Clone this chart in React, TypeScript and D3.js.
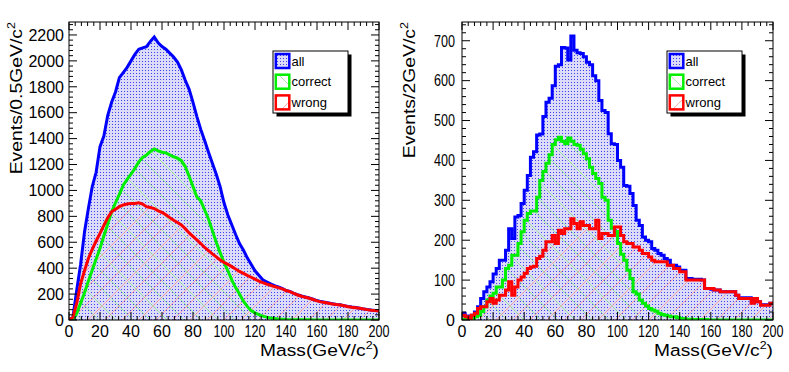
import React from "react";
import * as d3 from "d3";

// left panel: 0.5 GeV binning, values read every 2.5 GeV
const leftAll = [
  0, 20, 232, 430, 680, 860, 1030, 1140, 1338, 1420,
  1580, 1680, 1760, 1870, 1910, 1950, 2000, 2050, 2090, 2100,
  2110, 2150, 2185, 2140, 2110, 2090, 2060, 2030, 1990, 1930,
  1850, 1780, 1680, 1570, 1470, 1385, 1295, 1210, 1125, 1030,
  905, 810, 735, 660, 590, 540, 480, 430, 380, 345,
  310, 295, 280, 265, 255, 245, 228, 220, 206, 195,
  185, 177, 170, 160, 150, 142, 137, 131, 125, 120,
  117, 111, 105, 100, 96, 91, 86, 81, 77, 74, 71,
];
const leftCorrect = [
  0, 5, 52, 130, 210, 300, 385, 470, 553, 650,
  740, 836, 905, 970, 1040, 1085, 1125, 1170, 1220, 1255,
  1274, 1300, 1320, 1305, 1295, 1290, 1275, 1260, 1250, 1230,
  1185, 1110, 1030, 950, 920, 849, 780, 690, 600, 520,
  445, 380, 310, 250, 200, 145, 105, 72, 55, 42,
  30, 22, 15, 11, 7, 5, 3, 2, 2, 1,
  1, 1, 1, 0, 0, 0, 0, 0, 0, 0,
  0, 0, 0, 0, 0, 0, 0, 0, 0, 0, 0,
];
const leftWrong = [
  0, 20, 130, 280, 380, 475, 545, 610, 669, 730,
  790, 835, 855, 875, 888, 895, 900, 900, 905, 895,
  875, 868, 860, 842, 830, 812, 790, 770, 752, 733,
  705, 672, 645, 618, 590, 560, 535, 510, 487, 463,
  445, 430, 412, 393, 375, 360, 344, 330, 315, 300,
  288, 277, 268, 258, 250, 240, 228, 219, 205, 193,
  183, 175, 168, 158, 148, 140, 135, 130, 124, 119,
  116, 110, 103, 98, 94, 90, 85, 80, 76, 73, 70,
];

// right panel: 2 GeV bins
const rightAll = [
  17, 10, 8, 12, 20, 33, 54, 71, 83, 96,
  115, 129, 150, 150, 175, 229, 204, 258, 262, 292,
  325, 362, 408, 422, 464, 466, 510, 546, 556, 587,
  636, 640, 683, 682, 652, 712, 676, 670, 668, 660,
  646, 640, 612, 600, 550, 525, 520, 467, 442, 440,
  400, 383, 337, 335, 317, 287, 250, 237, 208, 200,
  196, 179, 175, 167, 162, 154, 150, 137, 137, 133,
  125, 125, 104, 104, 102, 102, 102, 100, 79, 79,
  77, 75, 75, 71, 71, 71, 71, 71, 62, 54,
  56, 56, 56, 44, 54, 46, 38, 38, 38, 42,
];
const rightCorrect = [
  1, 2, 2, 4, 8, 12, 21, 33, 50, 60,
  67, 83, 83, 100, 129, 137, 162, 162, 192, 221,
  250, 267, 273, 273, 308, 350, 372, 393, 414, 440,
  452, 458, 448, 442, 456, 448, 440, 438, 428, 417,
  404, 383, 367, 355, 342, 308, 300, 250, 230, 222,
  192, 165, 150, 125, 104, 71, 65, 50, 42, 35,
  29, 25, 22, 17, 14, 12, 10, 8, 8, 6,
  4, 3, 2, 2, 1, 1, 1, 1, 1, 0,
  0, 0, 0, 0, 0, 0, 0, 0, 0, 0,
  0, 0, 0, 0, 0, 0, 0, 0, 0, 0,
];
const rightWrong = [
  12, 8, 4, 12, 17, 29, 33, 33, 46, 54,
  42, 50, 62, 62, 75, 96, 62, 83, 100, 108,
  117, 129, 133, 135, 154, 160, 175, 196, 196, 212,
  192, 225, 217, 229, 229, 254, 242, 229, 246, 237,
  237, 229, 229, 250, 204, 217, 217, 212, 212, 233,
  233, 212, 196, 192, 192, 183, 183, 175, 167, 167,
  158, 150, 146, 146, 146, 146, 137, 137, 129, 129,
  121, 121, 100, 100, 100, 100, 100, 100, 79, 79,
  79, 75, 75, 71, 71, 71, 71, 71, 62, 54,
  54, 54, 54, 42, 54, 46, 37, 37, 37, 42,
];

const xTicks = [0, 20, 40, 60, 80, 100, 120, 140, 160, 180, 200];
const leftYTicks = [0, 200, 400, 600, 800, 1000, 1200, 1400, 1600, 1800, 2000, 2200];
const rightYTicks = [0, 100, 200, 300, 400, 500, 600, 700];
const legendLabels = ["all", "correct", "wrong"];

const FONT = "'Liberation Sans', Arial, Helvetica, sans-serif";
const colors = { all: "#0000ff", correct: "#00ee00", wrong: "#ff0000" };
const fills = { all: "url(#dots)", correct: "url(#hatchG)", wrong: "url(#hatchR)" };

function Panel(props) {
  const { id, frame, yMax, yTicks, yMinor, all, correct, wrong, binWidth, step,
    yTitle, yTitleX, legendX, condenseY, labelGap } = props;
  const x = d3.scaleLinear().domain([0, 200]).range([frame.left, frame.right]);
  const y = d3.scaleLinear().domain([0, yMax]).range([frame.bottom, frame.top]);
  const curve = step ? d3.curveStepAfter : d3.curveLinear;
  const prep = (vals) => {
    const pts = vals.map((v, i) => [i * binWidth, v]);
    return step ? pts.concat([[200, vals[vals.length - 1]]]) : pts;
  };
  const line = d3.line().x(d => x(d[0])).y(d => y(d[1])).curve(curve);
  const area = d3.area().x(d => x(d[0])).y0(y(0)).y1(d => y(d[1])).curve(curve);
  const series = [
    { key: "all", vals: all },
    { key: "correct", vals: correct },
    { key: "wrong", vals: wrong },
  ];
  const xMinor = d3.range(0, 201, 4);
  const yMinorTicks = d3.range(0, yMax, yMinor);
  const big = 8, small = 4;

  return (
    <g>
      <clipPath id={`clip-${id}`}>
        <rect x={frame.left} y={frame.top} width={frame.right - frame.left} height={frame.bottom - frame.top} />
      </clipPath>
      <g clipPath={`url(#clip-${id})`}>
        {series.map(s => (
          <path key={`a-${s.key}`} d={area(prep(s.vals))} fill={fills[s.key]} />
        ))}
        {series.map(s => (
          <path key={`l-${s.key}`} d={line(prep(s.vals))} fill="none" stroke={colors[s.key]}
            strokeWidth={3} strokeLinejoin="miter" />
        ))}
      </g>
      <rect x={frame.left} y={frame.top} width={frame.right - frame.left} height={frame.bottom - frame.top}
        fill="none" stroke="#000" strokeWidth={1} />
      {/* ticks on all four sides, pointing inward */}
      {xMinor.map(t => {
        const len = t % 20 === 0 ? big : small;
        return (
          <g key={`xt-${t}`} stroke="#000" strokeWidth={1}>
            <line x1={x(t)} x2={x(t)} y1={frame.bottom} y2={frame.bottom - len} />
            <line x1={x(t)} x2={x(t)} y1={frame.top} y2={frame.top + len} />
          </g>
        );
      })}
      {yMinorTicks.map(t => {
        const len = yTicks.includes(t) ? big : small;
        return (
          <g key={`yt-${t}`} stroke="#000" strokeWidth={1}>
            <line x1={frame.left} x2={frame.left + len} y1={y(t)} y2={y(t)} />
            <line x1={frame.right} x2={frame.right - len} y1={y(t)} y2={y(t)} />
          </g>
        );
      })}
      {xTicks.map(t => (
        <text key={`xl-${t}`} x={x(t)} y={frame.bottom + 17} fontSize={16} fontFamily={FONT}
          textAnchor="middle" {...(t >= 100 ? { textLength: 21, lengthAdjust: "spacingAndGlyphs" } : {})}>
          {t}
        </text>
      ))}
      {yTicks.map(t => (
        <text key={`yl-${t}`} x={frame.left - labelGap} y={y(t)} dy="0.36em" fontSize={16} fontFamily={FONT}
          textAnchor="end"
          {...(condenseY && t >= 100 ? { textLength: 21, lengthAdjust: "spacingAndGlyphs" } : {})}>
          {t}
        </text>
      ))}
      <text transform={`translate(${frame.right},356) scale(1.13,1)`} fontSize={17} fontFamily={FONT} textAnchor="end">
        Mass(GeV/c<tspan dy={-7} fontSize={11}>2</tspan><tspan dy={7}>)</tspan>
      </text>
      <text transform={`translate(${yTitleX},22) rotate(-90) scale(1.14,1)`} fontSize={17} fontFamily={FONT} textAnchor="end">
        {yTitle}<tspan dy={-7} fontSize={11}>2</tspan>
      </text>
      <Legend lx={legendX} />
    </g>
  );
}

function Legend({ lx }) {
  const top = 51, w = 75, h = 62;
  const rows = [61, 81.7, 102.4];
  return (
    <g>
      <rect x={lx + 3.5} y={top + 3.5} width={w} height={h} fill="#000" />
      <rect x={lx} y={top} width={w} height={h} fill="#fff" stroke="#000" strokeWidth={1} />
      {legendLabels.map((lab, i) => (
        <g key={lab}>
          <rect x={lx + 2.8} y={rows[i] - 7} width={13.5} height={14} fill={fills[lab]}
            stroke={colors[lab]} strokeWidth={2.5} />
          <text x={lx + 18.5} y={rows[i] + 4.5} fontSize={13} fontFamily={FONT}>{lab}</text>
        </g>
      ))}
    </g>
  );
}

export default function App() {
  return (
    <svg width={789} height={372} style={{ position: "absolute", left: 0, top: 0, background: "#fff" }}>
      <defs>
        <pattern id="dots" width="3" height="3" patternUnits="userSpaceOnUse">
          <rect width="3" height="3" fill="#dcdcf8" />
          <rect x="1" y="1" width="1" height="1" fill="#4040f0" />
        </pattern>
        <pattern id="hatchG" width="17" height="17" patternUnits="userSpaceOnUse">
          <path d="M0,0 L17,17 M-4,13 L4,21 M13,-4 L21,4" stroke="#8ee88e" strokeWidth={0.8} fill="none" />
        </pattern>
        <pattern id="hatchR" width="17" height="17" patternUnits="userSpaceOnUse">
          <path d="M0,17 L17,0 M-4,4 L4,-4 M13,21 L21,13" stroke="#ff9898" strokeWidth={0.8} fill="none" />
        </pattern>
      </defs>
      <rect width={789} height={372} fill="#fff" />
      <Panel id="l" frame={{ left: 69, right: 379, top: 22, bottom: 320 }} yMax={2300}
        yTicks={leftYTicks} yMinor={40} all={leftAll} correct={leftCorrect} wrong={leftWrong}
        binWidth={2.5} step={false} yTitle="Events/0.5GeV/c" yTitleX={21.5} legendX={273}
        condenseY={false} labelGap={5} />
      <Panel id="r" frame={{ left: 462, right: 773, top: 22, bottom: 320 }} yMax={747}
        yTicks={rightYTicks} yMinor={20} all={rightAll} correct={rightCorrect} wrong={rightWrong}
        binWidth={2} step={true} yTitle="Events/2GeV/c" yTitleX={414.5} legendX={667}
        condenseY={true} labelGap={7} />
    </svg>
  );
}
